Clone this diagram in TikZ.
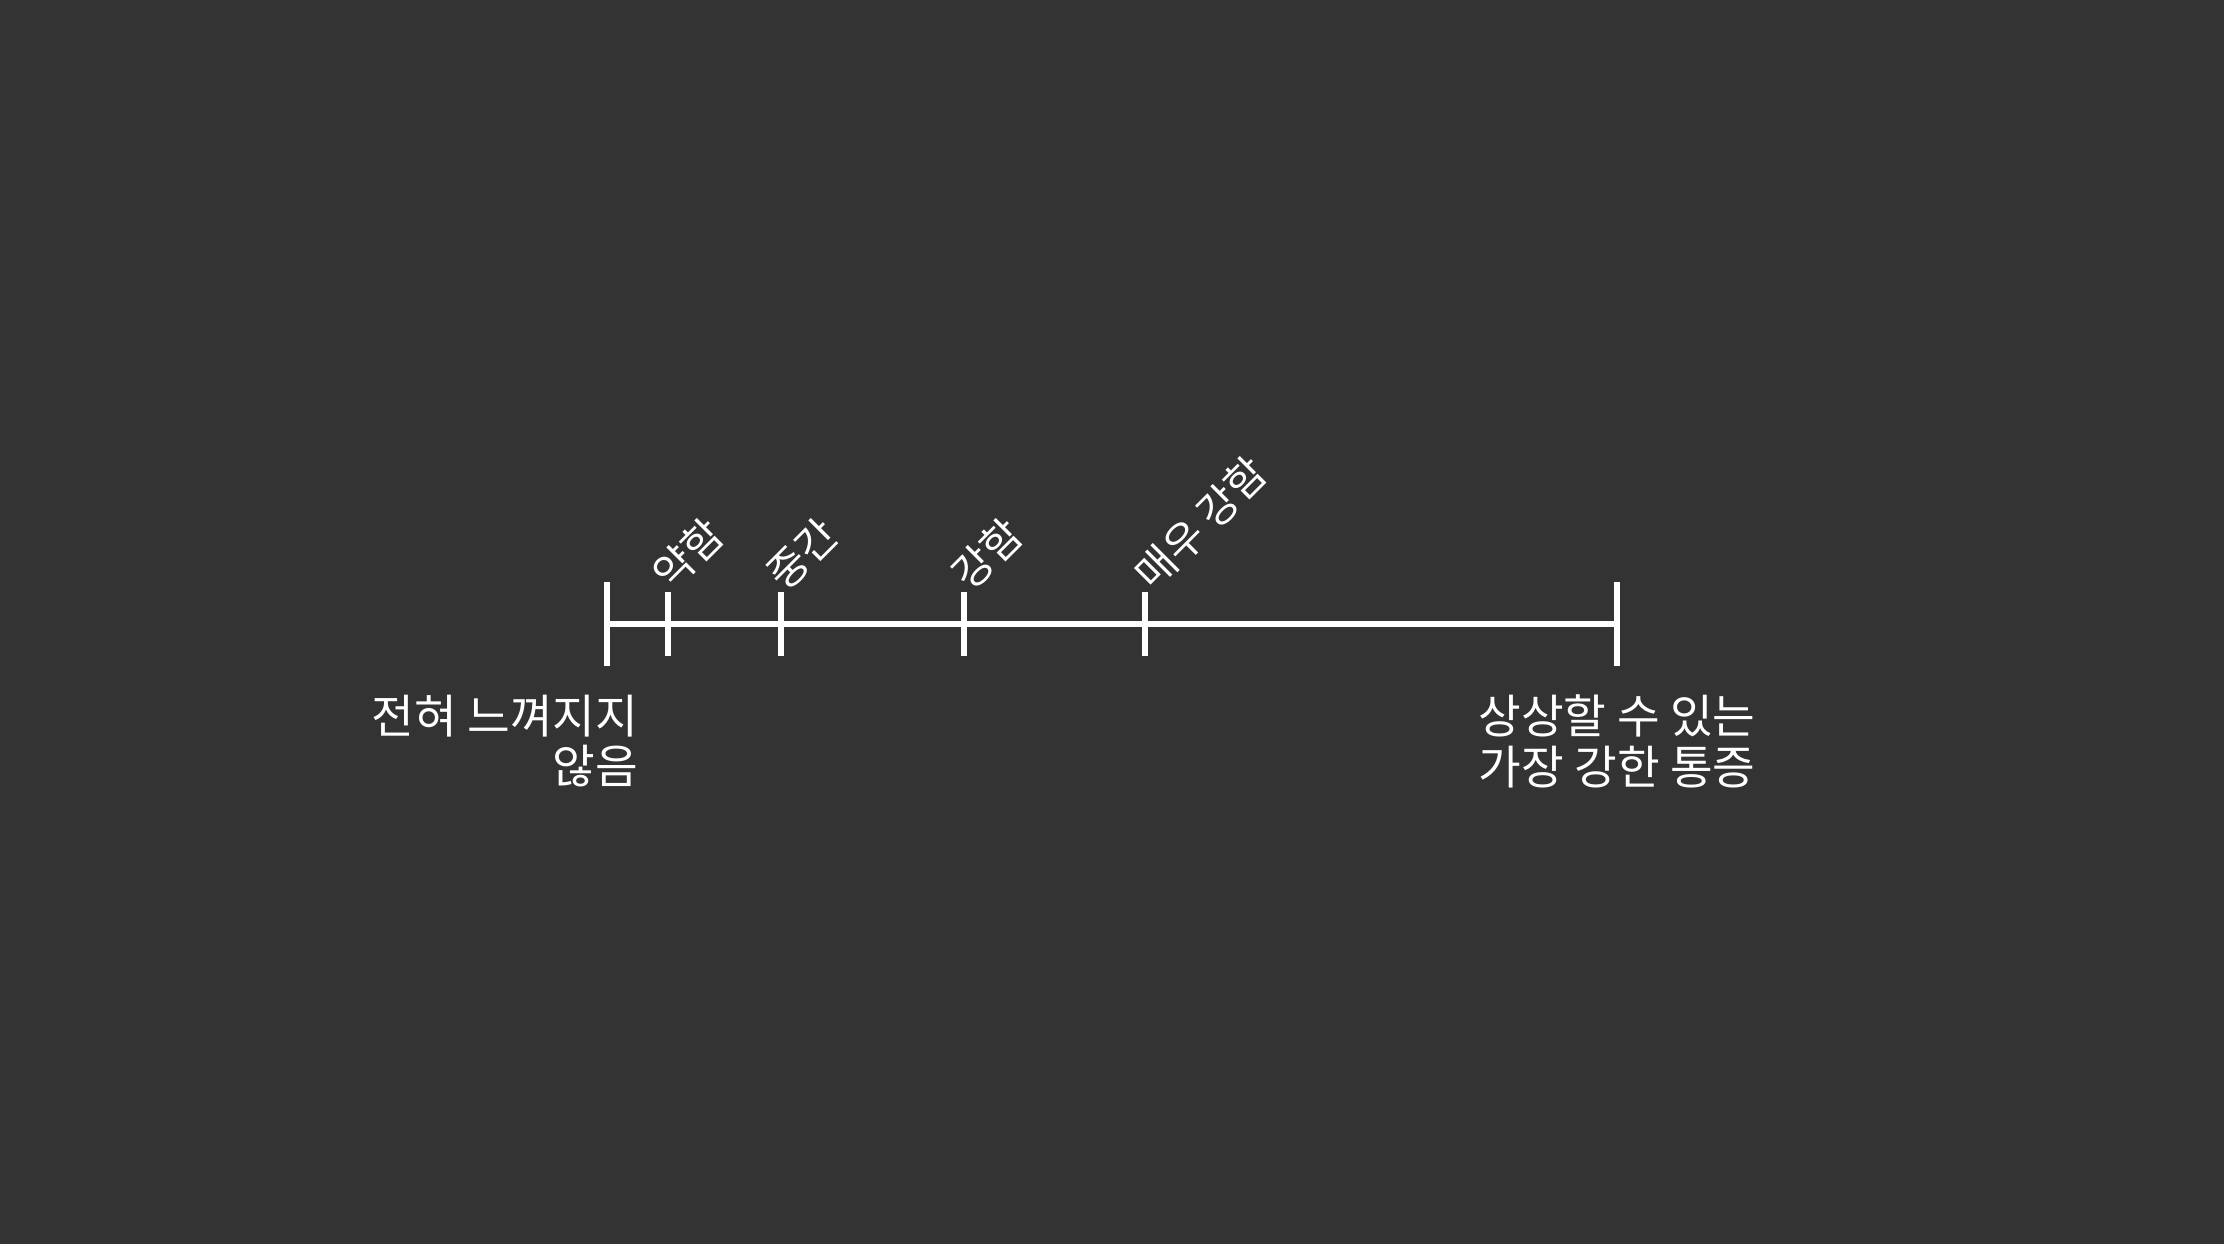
\documentclass[tikz,border=0pt]{standalone}
\usepackage{fontspec}
\setmainfont{Noto Sans CJK KR}
\usetikzlibrary{positioning}
\definecolor{bg}{RGB}{51,51,51}
\begin{document}
\begin{tikzpicture}
\tikzstyle{bar}=[white,line width=1.7pt]
\tikzstyle{lvl}=[white,rotate=45,anchor=south west,inner sep=0pt,font=\fontsize{12}{14}\selectfont]
\tikzstyle{endlbl}=[white,inner sep=0pt,font=\fontsize{13.2}{14.4}\selectfont]
\fill[bg] (0,0) rectangle (22.24,12.44);
\useasboundingbox (0,0) rectangle (22.24,12.44);
\coordinate (lo) at (6.07,6.20);
\coordinate (hi) at (16.17,6.20);
\coordinate (t1) at (6.68,6.20);
\coordinate (t2) at (7.81,6.20);
\coordinate (t3) at (9.64,6.20);
\coordinate (t4) at (11.45,6.20);
\draw[bar] (lo) -- (hi);
\draw[bar] (lo) ++(0,0.42) -- ++(0,-0.84);
\draw[bar] (hi) ++(0,0.42) -- ++(0,-0.84);
\draw[bar] (t1) ++(0,0.32) -- ++(0,-0.64);
\draw[bar] (t2) ++(0,0.32) -- ++(0,-0.64);
\draw[bar] (t3) ++(0,0.32) -- ++(0,-0.64);
\draw[bar] (t4) ++(0,0.32) -- ++(0,-0.64);
\node[lvl] (weak)    at (6.74,6.48)  {약함};
\node[lvl] (mid)     at (7.88,6.48)  {중간};
\node[lvl] (strong)  at (9.73,6.48)  {강함};
\node[lvl] (vstrong) at (11.56,6.48) {매우 강함};
\node[endlbl,anchor=north east,align=right] (none) at (6.39,5.50) {전혀 느껴지지\\않음};
\node[endlbl,anchor=north,align=center] (worst) at (16.17,5.50) {상상할 수 있는\\가장 강한 통증};
\end{tikzpicture}
\end{document}
